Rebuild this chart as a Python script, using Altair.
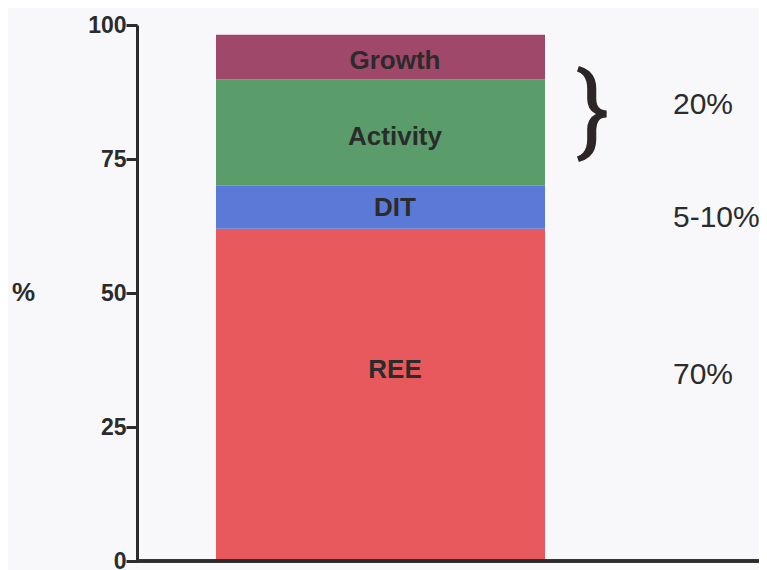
import altair as alt
import pandas as pd

# ---- data ----
components = ["REE", "DIT", "Activity", "Growth"]
values = [62.0, 8.0, 19.9, 8.3]
colors = ["#e8595e", "#5b79d6", "#5a9d6b", "#a0486a"]
label_y = [35.6, 65.9, 79.1, 93.3]
share_texts = ["20%", "5-10%", "70%"]
share_y = [85.0, 64.0, 34.7]
brace_y = [83.4]
y_ticks = [0, 25, 50, 75, 100]

# ---- derived tables ----
bottoms, tops, acc = [], [], 0.0
for v in values:
    bottoms.append(acc)
    acc += v
    tops.append(acc)
bars = pd.DataFrame({"component": components, "y0": bottoms, "y1": tops, "ly": label_y})
shares = pd.DataFrame({"txt": share_texts, "y": share_y})
brace = pd.DataFrame({"txt": ["}"], "y": brace_y})

W, H = 622, 536
FONT = "Liberation Sans"
INK = "#2b2b2b"

yscale = alt.Scale(domain=[0, 100], nice=False, zero=True)
cscale = alt.Scale(domain=components, range=colors)

base = alt.Chart(bars)

bar = base.mark_bar(size=0).encode(
    x=alt.value(79), x2=alt.value(408),
    y=alt.Y("y0:Q", scale=yscale, title="%",
            axis=alt.Axis(values=y_ticks, grid=False, labelFont=FONT, labelFontSize=23,
                          labelFontWeight="bold", labelColor=INK, labelPadding=0,
                          domainColor=INK, domainWidth=3, tickColor=INK, tickWidth=3,
                          tickSize=11, titleAngle=0, titleFont=FONT, titleFontSize=26,
                          titleFontWeight="bold", titleColor=INK, titleX=-114,
                          titleY=267, titleAlign="center", titleBaseline="middle")),
    y2="y1:Q",
    color=alt.Color("component:N", scale=cscale, legend=None),
)

names = base.mark_text(font=FONT, fontSize=26, fontWeight="bold", color=INK,
                       align="center", baseline="middle").encode(
    x=alt.value(258),
    y=alt.Y("ly:Q", scale=yscale),
    text="component:N",
)

share_txt = alt.Chart(shares).mark_text(font=FONT, fontSize=30, color=INK,
                                        align="left", baseline="middle").encode(
    x=alt.value(536),
    y=alt.Y("y:Q", scale=yscale),
    text="txt:N",
)

brace_txt = alt.Chart(brace).mark_text(font="Roboto", fontSize=100, fontWeight=400,
                                       color="#2d2626", align="center",
                                       baseline="middle").encode(
    x=alt.value(456),
    y=alt.Y("y:Q", scale=yscale),
    text="txt:N",
)

xaxis_line = alt.Chart(bars).mark_rule(color=INK, strokeWidth=3).encode(
    x=alt.value(0), x2=alt.value(W), y=alt.value(H),
)

chart = alt.layer(bar, names, share_txt, brace_txt, xaxis_line).properties(
    width=W, height=H,
    autosize=alt.AutoSizeParams(type="none"),
    padding={"left": 129, "top": 17, "right": 0, "bottom": 12},
    background="#f8f8fb",
).configure_view(stroke=None)

chart.save("out.html", embed_options={"renderer": "svg", "actions": False})
